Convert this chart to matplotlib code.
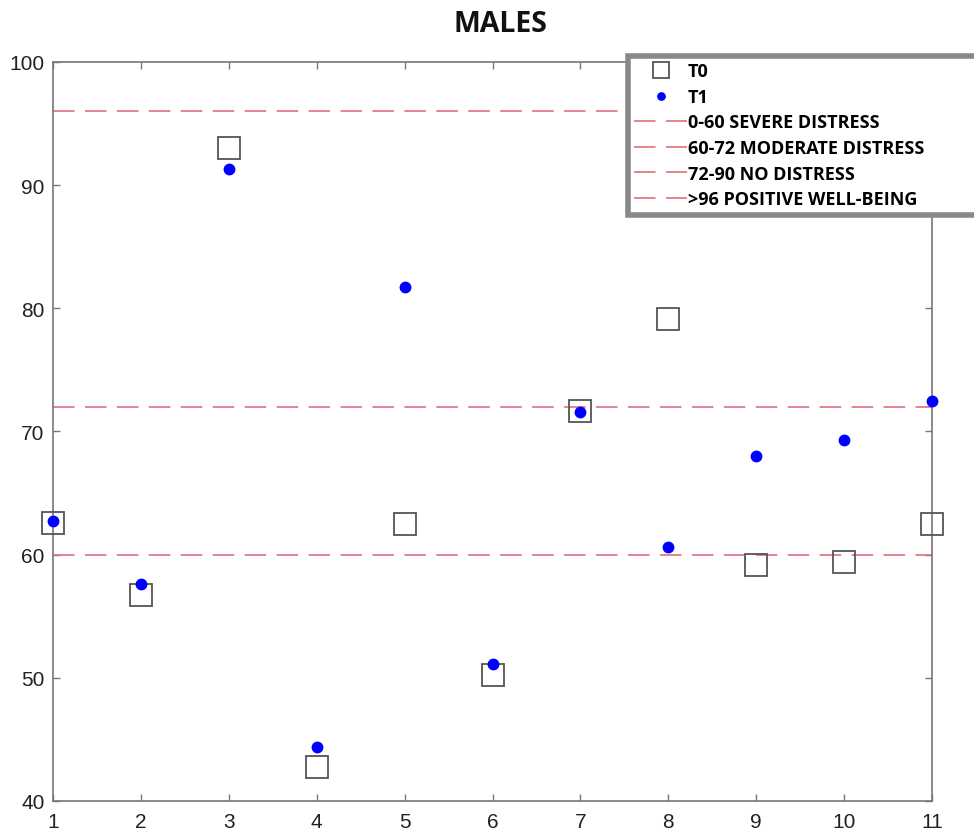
import numpy as np
import matplotlib
matplotlib.use('Agg')
import matplotlib.pyplot as plt

# subject index and scores at the two time points
subjects = np.arange(1, 12)
t0_scores = [62.6, 56.7, 93.0, 42.8, 62.5, 50.2, 71.7, 79.1, 59.2, 59.4, 62.5]
t1_scores = [62.7, 57.6, 91.3, 44.4, 81.7, 51.1, 71.6, 60.6, 68.0, 69.3, 72.5]

# lower bound of each distress band
band_levels = [0, 60, 72, 96]
band_labels = ['0-60 SEVERE DISTRESS', '60-72 MODERATE DISTRESS',
               '72-90 NO DISTRESS', '>96 POSITIVE WELL-BEING']

W, H = 974, 837
fig = plt.figure(figsize=(W / 100, H / 100), dpi=100)
ax = fig.add_axes([53 / W, 1 - 802 / H, (932 - 53) / W, (802 - 63) / H])

ax.plot(subjects, t0_scores, linestyle='none', marker='s', markersize=15.5,
        markerfacecolor='none', markeredgecolor='#555555', markeredgewidth=1.3,
        label='T0', clip_on=False, zorder=3)
ax.plot(subjects, t1_scores, linestyle='none', marker='o', markersize=7.5,
        color='#0000ff', label='T1', clip_on=False, zorder=4)

lw = 1.2
for level, lab in zip(band_levels, band_labels):
    ax.axhline(level, color='#e0707c', linewidth=lw,
               dashes=(15.5 / lw, 7.5 / lw), label=lab)

ax.set_xlim(1, 11)
ax.set_ylim(40, 100)
ax.set_xticks(subjects)
ax.set_yticks(np.arange(40, 101, 10))
ax.tick_params(direction='in', length=5, width=1, color='#777777',
               top=True, right=True, labelsize=15)
ax.tick_params(axis='x', pad=8)
ax.tick_params(axis='y', pad=6)
for lbl in ax.get_xticklabels() + ax.get_yticklabels():
    lbl.set_fontfamily('Liberation Sans')
    lbl.set_color('#222222')
for sp in ax.spines.values():
    sp.set_color('#777777')
    sp.set_linewidth(1.2)

fig.text(500 / W, 1 - 25 / H, 'MALES', ha='center', va='center',
         fontsize=20.5, fontweight='bold', family='Open Sans', color='#111111')

leg = ax.legend(loc='upper left',
                bbox_to_anchor=(628 / W, 1 - 214 / H, 360 / W, 157 / H),
                bbox_transform=fig.transFigure, mode='expand',
                prop={'family': 'Open Sans', 'weight': 'bold', 'size': 13},
                handlelength=2.9, handletextpad=0.05, labelspacing=0.42,
                markerscale=0.7, borderaxespad=0, fancybox=False,
                framealpha=1, borderpad=0.35)
leg.get_frame().set_edgecolor('#888888')
leg.get_frame().set_linewidth(4)
leg.set_zorder(10)

fig.savefig('out.png', dpi=100)
